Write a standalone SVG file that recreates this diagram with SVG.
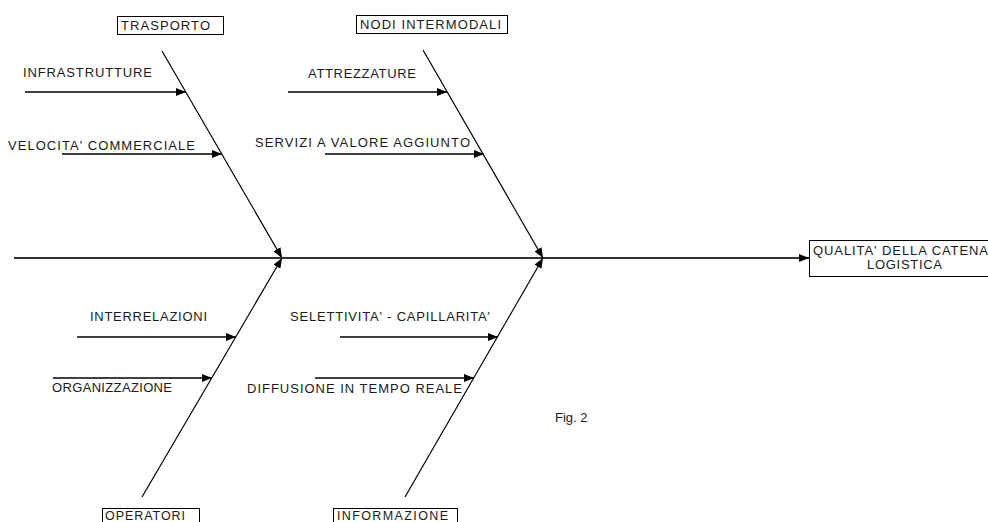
<svg xmlns="http://www.w3.org/2000/svg" width="988" height="522" viewBox="0 0 988 522">
<defs>
<marker id="ah" markerWidth="10" markerHeight="8" refX="10" refY="4" orient="auto" markerUnits="userSpaceOnUse">
<path d="M0,0 L10,4 L0,8 Z" fill="#000"/>
</marker>
<style>
text{font-family:"Liberation Sans",Arial,sans-serif;font-size:13px;fill:#1a1a1a}
.box{fill:#fff;stroke:#000;stroke-width:1}
.bone{stroke:#000;stroke-width:1.2;fill:none}
.sub{stroke:#000;stroke-width:1.3;fill:none}
.spine{stroke:#333;stroke-width:2;fill:none}
</style>
</defs>
<rect width="988" height="522" fill="#fff"/>
<g id="connectors">
<line class="spine" x1="14" y1="258" x2="809" y2="258" marker-end="url(#ah)"/>
<line class="bone" x1="162" y1="51" x2="282" y2="258" marker-end="url(#ah)"/>
<line class="bone" x1="423" y1="50" x2="543" y2="258" marker-end="url(#ah)"/>
<line class="bone" x1="142" y1="497" x2="282" y2="258" marker-end="url(#ah)"/>
<line class="bone" x1="405" y1="497" x2="543" y2="258" marker-end="url(#ah)"/>
<line class="sub" x1="25" y1="92" x2="186" y2="92" marker-end="url(#ah)"/>
<line class="sub" x1="62" y1="154" x2="222" y2="154" marker-end="url(#ah)"/>
<line class="sub" x1="288" y1="92" x2="447" y2="92" marker-end="url(#ah)"/>
<line class="sub" x1="325" y1="154" x2="484" y2="154" marker-end="url(#ah)"/>
<line class="sub" x1="77" y1="337" x2="236" y2="337" marker-end="url(#ah)"/>
<line class="sub" x1="53" y1="378" x2="212" y2="378" marker-end="url(#ah)"/>
<line class="sub" x1="340" y1="337" x2="498" y2="337" marker-end="url(#ah)"/>
<line class="sub" x1="315" y1="378" x2="474" y2="378" marker-end="url(#ah)"/>
</g>
<g id="trasporto">
<rect class="box" x="117.5" y="16.5" width="106" height="18"/>
<text x="121" y="30" textLength="89" lengthAdjust="spacing">TRASPORTO</text>
</g>
<g id="nodi">
<rect class="box" x="356.5" y="15.5" width="151" height="18"/>
<text x="360" y="29" textLength="141" lengthAdjust="spacing">NODI INTERMODALI</text>
</g>
<g id="operatori">
<rect class="box" x="102.5" y="508.5" width="97" height="20"/>
<text x="105" y="519.5" style="font-size:12.5px" textLength="80" lengthAdjust="spacing">OPERATORI</text>
</g>
<g id="informazione">
<rect class="box" x="333.5" y="508.5" width="124" height="20"/>
<text x="337" y="519.5" style="font-size:12.5px" textLength="111" lengthAdjust="spacing">INFORMAZIONE</text>
</g>
<g id="qualita">
<rect class="box" x="809.5" y="240.5" width="190" height="36"/>
<text x="813" y="255" textLength="175" lengthAdjust="spacing">QUALITA' DELLA CATENA</text>
<text x="867" y="269" textLength="75" lengthAdjust="spacing">LOGISTICA</text>
</g>
<g id="infrastrutture">
<text x="23" y="77" textLength="129" lengthAdjust="spacing">INFRASTRUTTURE</text>
</g>
<g id="velocita">
<text x="8" y="150" textLength="187" lengthAdjust="spacing">VELOCITA'  COMMERCIALE</text>
</g>
<g id="attrezzature">
<text x="308" y="78" textLength="108" lengthAdjust="spacing">ATTREZZATURE</text>
</g>
<g id="servizi">
<text x="255" y="147" textLength="215" lengthAdjust="spacing">SERVIZI  A VALORE AGGIUNTO</text>
</g>
<g id="interrelazioni">
<text x="90" y="321" textLength="117" lengthAdjust="spacing">INTERRELAZIONI</text>
</g>
<g id="organizzazione">
<text x="52" y="392" textLength="120" lengthAdjust="spacing">ORGANIZZAZIONE</text>
</g>
<g id="selettivita">
<text x="290" y="321" textLength="200" lengthAdjust="spacing">SELETTIVITA' - CAPILLARITA'</text>
</g>
<g id="diffusione">
<text x="247" y="393" textLength="215" lengthAdjust="spacing">DIFFUSIONE IN TEMPO REALE</text>
</g>
<g id="fig">
<text x="555" y="422">Fig. 2</text>
</g>
</svg>
